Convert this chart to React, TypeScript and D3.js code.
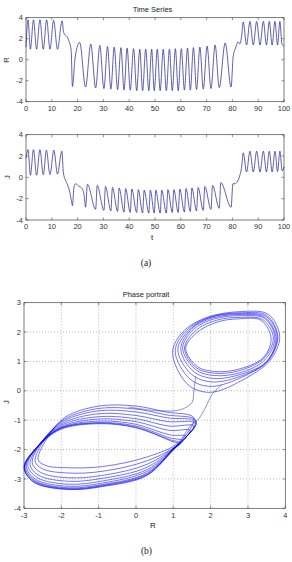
import React, { useEffect, useRef } from "react";
import * as d3 from "d3";

const W = 292;
const H = 562;

// R(t): turning points
const rTimes = [
  0, 0.8, 1.7, 2.9, 4.1, 5.4, 6.7, 8.0, 9.3, 10.7, 12.2, 14.0, 14.6, 16.3, 17.5,
  18.0, 19.0, 20.8, 23.1, 25.1, 27.0, 28.6, 30.2, 31.6, 32.9, 34.2, 35.5, 36.8,
  38.0, 39.2, 40.4, 41.7, 42.9, 44.1, 45.2, 46.4, 47.6, 48.7, 49.7, 50.9, 52.0,
  53.2, 54.4, 55.6, 56.7, 57.9, 59.0, 60.2, 61.4, 62.6, 63.7, 64.9, 66.1, 67.4,
  68.7, 70.2, 71.7, 73.3, 74.9, 77.2, 79.5, 80.3, 81.2, 82.3, 82.9, 83.6, 84.2,
  85.5, 86.8, 88.1, 89.4, 90.7, 92.0, 93.2, 94.3, 95.4, 96.5, 97.5, 98.4, 99.2, 100,
];
const rValues = [
  1.2, 3.8, 1.0, 3.8, 1.0, 3.8, 1.0, 3.8, 1.0, 3.75, 1.0, 3.7, 2.6, 2.0, 0.9,
  -2.55, 0.1, 1.65, -2.6, 1.5, -2.7, 1.35, -2.75, 1.25, -2.8, 1.2, -2.85, 1.15,
  -2.9, 1.1, -2.9, 1.05, -2.95, 1.0, -2.95, 1.0, -2.95, 1.0, -2.95, 1.0, -2.95,
  1.0, -2.95, 1.0, -2.95, 1.05, -2.95, 1.05, -2.9, 1.1, -2.9, 1.15, -2.85, 1.2,
  -2.8, 1.3, -2.75, 1.4, -2.65, 1.6, -2.6, 0.3, 1.1, 1.7, 1.5, 2.3, 3.6,
  1.4, 3.65, 1.4, 3.65, 1.4, 3.65, 1.4, 3.65, 1.4, 3.65, 1.4, 3.65, 1.5, 1.3,
];

// J(t): turning points
const jTimes = [
  0, 0.8, 1.7, 2.9, 4.1, 5.4, 6.7, 7.9, 9.3, 10.8, 12.2, 13.9, 14.5, 15.8, 16.8,
  17.6, 18.0, 18.6, 19.2, 20.3, 21.6, 22.6, 23.1, 23.8, 27.0, 27.6, 30.2, 30.8,
  32.9, 33.5, 35.5, 36.1, 38.0, 38.6, 40.4, 41.0, 42.9, 43.5, 45.2, 45.8, 47.6,
  48.2, 49.7, 50.3, 52.0, 52.6, 54.4, 55.0, 56.7, 57.3, 59.0, 59.6, 61.4, 62.0,
  63.7, 64.3, 66.1, 66.7, 68.7, 69.3, 71.7, 72.3, 74.9, 75.5, 79.5, 80.2, 81.0,
  81.8, 82.7, 83.6, 84.2, 85.5, 86.8, 88.1, 89.4, 90.7, 92.0, 93.2, 94.3, 95.4,
  96.5, 97.5, 98.4, 99.3, 100,
];
const jValues = [
  1.8, 2.6, 0.2, 2.6, 0.2, 2.6, 0.25, 2.55, 0.25, 2.55, 0.3, 2.45, 0.4, -0.55, -1.2,
  -2.2, -2.65, -0.9, -0.6, -0.8, -1.0, -1.8, -2.8, -0.65, -3.0, -0.75, -3.1, -0.85,
  -3.15, -0.95, -3.2, -1.0, -3.25, -1.05, -3.3, -1.1, -3.3, -1.15, -3.35, -1.2, -3.35,
  -1.2, -3.35, -1.2, -3.35, -1.2, -3.35, -1.15, -3.3, -1.15, -3.3, -1.1, -3.25, -1.05,
  -3.2, -1.0, -3.15, -0.95, -3.1, -0.85, -3.0, -0.75, -2.9, -0.5, -2.8, -0.6, -0.6,
  -0.45, 0.05, 1.0, 2.3, 0.5, 2.45, 0.5, 2.45, 0.5, 2.45, 0.5, 2.45, 0.5,
  2.45, 0.55, 2.45, 0.6, 1.0,
];

const timeTicks = [0, 10, 20, 30, 40, 50, 60, 70, 80, 90, 100];
const seriesTicks = [-4, -2, 0, 2, 4];
const phaseRTicks = [-3, -2, -1, 0, 1, 2, 3, 4];
const phaseJTicks = [-4, -3, -2, -1, 0, 1, 2, 3];

// phase portrait, upper attractor: loops of [R, J]
const upperLoops = [
  [[0.98, 1.3], [1.25, 2.0], [1.9, 2.5], [2.85, 2.7], [3.55, 2.6], [3.85, 1.85], [3.6, 1.05], [2.9, 0.4], [2.0, -0.05], [1.4, 0.2]],
  [[1.05, 1.35], [1.35, 2.05], [1.95, 2.5], [2.85, 2.66], [3.5, 2.57], [3.8, 1.85], [3.55, 1.05], [2.9, 0.5], [2.0, 0.15], [1.45, 0.4]],
  [[1.12, 1.4], [1.45, 2.1], [2.0, 2.5], [2.85, 2.63], [3.5, 2.52], [3.78, 1.85], [3.52, 1.0], [2.85, 0.52], [2.05, 0.3], [1.5, 0.55]],
  [[1.2, 1.42], [1.5, 2.12], [2.05, 2.48], [2.85, 2.6], [3.45, 2.5], [3.75, 1.82], [3.5, 1.0], [2.85, 0.58], [2.1, 0.42], [1.55, 0.65]],
  [[1.25, 1.45], [1.55, 2.1], [2.1, 2.45], [2.85, 2.56], [3.45, 2.46], [3.72, 1.8], [3.45, 1.05], [2.8, 0.62], [2.1, 0.52], [1.6, 0.72]],
  [[1.3, 1.45], [1.6, 2.05], [2.15, 2.4], [2.8, 2.5], [3.4, 2.42], [3.68, 1.8], [3.42, 1.1], [2.75, 0.68], [2.1, 0.6], [1.62, 0.78]],
  [[1.33, 1.45], [1.65, 2.0], [2.2, 2.35], [2.75, 2.45], [3.35, 2.4], [3.62, 1.78], [3.4, 1.12], [2.7, 0.72], [2.1, 0.66], [1.65, 0.82]],
];

// phase portrait, lower attractor
const lowerLoops = [
  [[-2.62, -2.35], [-2.35, -1.55], [-1.9, -0.9], [-1.0, -0.52], [0.0, -0.52], [0.8, -0.72], [1.55, -0.92], [1.15, -1.75], [0.3, -2.25], [-0.9, -2.58], [-1.8, -2.62], [-2.4, -2.55]],
  [[-2.7, -2.4], [-2.42, -1.6], [-1.92, -0.97], [-1.0, -0.6], [0.0, -0.62], [0.82, -0.82], [1.6, -1.0], [1.15, -1.8], [0.3, -2.38], [-0.9, -2.74], [-1.8, -2.8], [-2.5, -2.66]],
  [[-2.78, -2.45], [-2.48, -1.66], [-1.94, -1.03], [-1.0, -0.68], [0.0, -0.72], [0.84, -0.92], [1.62, -1.05], [1.13, -1.82], [0.3, -2.5], [-0.9, -2.88], [-1.8, -2.96], [-2.55, -2.78]],
  [[-2.84, -2.5], [-2.52, -1.72], [-1.96, -1.1], [-1.0, -0.78], [0.0, -0.84], [0.86, -1.05], [1.6, -1.1], [1.12, -1.84], [0.3, -2.6], [-0.9, -2.98], [-1.8, -3.08], [-2.6, -2.88]],
  [[-2.9, -2.52], [-2.56, -1.78], [-1.98, -1.16], [-1.0, -0.88], [0.0, -0.95], [0.88, -1.2], [1.55, -1.2], [1.1, -1.86], [0.3, -2.68], [-0.9, -3.07], [-1.8, -3.18], [-2.64, -2.96]],
  [[-2.94, -2.55], [-2.6, -1.84], [-2.0, -1.22], [-1.0, -0.96], [0.0, -1.05], [0.9, -1.35], [1.45, -1.35], [1.1, -1.88], [0.3, -2.74], [-0.9, -3.14], [-1.8, -3.25], [-2.68, -3.02]],
  [[-2.97, -2.57], [-2.62, -1.88], [-2.02, -1.26], [-1.0, -1.03], [0.0, -1.14], [0.9, -1.5], [1.35, -1.55], [1.08, -1.9], [0.3, -2.8], [-0.9, -3.19], [-1.8, -3.3], [-2.7, -3.06]],
  [[-2.99, -2.58], [-2.64, -1.9], [-2.03, -1.28], [-1.0, -1.08], [0.0, -1.2], [0.9, -1.6], [1.25, -1.7], [1.05, -1.92], [0.3, -2.83], [-0.9, -3.22], [-1.8, -3.33], [-2.72, -3.08]],
  [[-3.0, -2.6], [-2.65, -1.92], [-2.04, -1.3], [-1.0, -1.1], [0.0, -1.24], [0.9, -1.66], [1.2, -1.78], [1.05, -1.95], [0.3, -2.86], [-0.9, -3.24], [-1.8, -3.35], [-2.74, -3.1]],
  [[-2.99, -2.62], [-2.64, -1.94], [-2.03, -1.32], [-1.0, -1.12], [0.0, -1.26], [0.92, -1.7], [1.15, -1.82], [1.0, -1.97], [0.3, -2.88], [-0.9, -3.26], [-1.8, -3.36], [-2.73, -3.12]],
];

// transit curves between the two attractors
const bridges = [
  [[-0.2, -0.55], [0.6, -0.68], [1.2, -0.64], [1.5, -0.4], [1.55, 0.0], [1.6, 0.5]],
  [[2.3, 0.2], [2.05, -0.1], [1.85, -0.6], [1.65, -1.0], [1.45, -1.2], [1.2, -1.7]],
];

const FONT = "'Liberation Sans', Arial, sans-serif";
const SERIF = "'Liberation Serif', 'Times New Roman', serif";

function drawFrame(g, x, y, xTicks, yTicks, grid) {
  const [x0, x1] = x.range();
  const [y0, y1] = y.range();
  const tk = 2.5;

  if (grid) {
    xTicks.slice(1, -1).forEach((v) => {
      g.append("line").attr("x1", x(v)).attr("x2", x(v)).attr("y1", y0).attr("y2", y1)
        .attr("stroke", "#8a8a8a").attr("stroke-width", 0.6).attr("stroke-dasharray", "1,2");
    });
    yTicks.slice(1, -1).forEach((v) => {
      g.append("line").attr("x1", x0).attr("x2", x1).attr("y1", y(v)).attr("y2", y(v))
        .attr("stroke", "#8a8a8a").attr("stroke-width", 0.6).attr("stroke-dasharray", "1,2");
    });
  }

  g.append("rect").attr("x", x0).attr("y", y1).attr("width", x1 - x0).attr("height", y0 - y1)
    .attr("fill", "none").attr("stroke", "#444").attr("stroke-width", 0.7);

  xTicks.forEach((v) => {
    g.append("line").attr("x1", x(v)).attr("x2", x(v)).attr("y1", y0).attr("y2", y0 - tk).attr("stroke", "#444").attr("stroke-width", 0.6);
    g.append("line").attr("x1", x(v)).attr("x2", x(v)).attr("y1", y1).attr("y2", y1 + tk).attr("stroke", "#444").attr("stroke-width", 0.6);
    g.append("text").attr("x", x(v)).attr("y", y0 + 9.3).attr("text-anchor", "middle")
      .attr("font-family", FONT).attr("font-size", 7.5).attr("fill", "#333").text(v);
  });
  yTicks.forEach((v) => {
    g.append("line").attr("x1", x0).attr("x2", x0 + tk).attr("y1", y(v)).attr("y2", y(v)).attr("stroke", "#444").attr("stroke-width", 0.6);
    g.append("line").attr("x1", x1).attr("x2", x1 - tk).attr("y1", y(v)).attr("y2", y(v)).attr("stroke", "#444").attr("stroke-width", 0.6);
    g.append("text").attr("x", x0 - 3).attr("y", y(v)).attr("dy", "0.35em").attr("text-anchor", "end")
      .attr("font-family", FONT).attr("font-size", 7.5).attr("fill", "#333").text(v);
  });
}

function addText(svg, x, y, s, opts = {}) {
  const t = svg.append("text").attr("x", x).attr("y", y)
    .attr("font-family", opts.family || FONT).attr("font-size", opts.size || 7.5)
    .attr("fill", "#222").attr("text-anchor", "middle").text(s);
  if (opts.rotate) {
    t.attr("x", 0).attr("y", 0).attr("dy", "0.35em").attr("transform", `translate(${x},${y}) rotate(-90)`);
  }
  return t;
}

export default function App() {
  const ref = useRef(null);

  useEffect(() => {
    const svg = d3.select(ref.current);
    svg.selectAll("*").remove();

    const xT = d3.scaleLinear().domain([0, 100]).range([26, 284]);
    const yR = d3.scaleLinear().domain([-4, 4]).range([101.7, 17.7]);
    const yJ = d3.scaleLinear().domain([-4, 4]).range([220, 134.7]);
    const xP = d3.scaleLinear().domain([-3, 4]).range([24, 285.3]);
    const yP = d3.scaleLinear().domain([-4, 3]).range([508.3, 302.7]);

    // time series panels
    const top = svg.append("g");
    drawFrame(top, xT, yR, timeTicks, seriesTicks, false);
    const rLine = d3.line().x((d) => xT(d[0])).y((d) => yR(d[1])).curve(d3.curveMonotoneX);
    top.append("path").datum(d3.zip(rTimes, rValues)).attr("d", rLine)
      .attr("fill", "none").attr("stroke", "#2b2b95").attr("stroke-width", 0.75);

    const bottom = svg.append("g");
    drawFrame(bottom, xT, yJ, timeTicks, seriesTicks, false);
    const jLine = d3.line().x((d) => xT(d[0])).y((d) => yJ(d[1])).curve(d3.curveMonotoneX);
    bottom.append("path").datum(d3.zip(jTimes, jValues)).attr("d", jLine)
      .attr("fill", "none").attr("stroke", "#2b2b95").attr("stroke-width", 0.75);

    addText(svg, 152.5, 12, "Time Series");
    addText(svg, 6.5, 60, "R", { rotate: true });
    addText(svg, 7, 177, "J", { rotate: true });
    addText(svg, 152, 240, "t", { size: 8 });
    addText(svg, 146, 266, "(a)", { family: SERIF, size: 9.5 });

    // phase portrait
    const phase = svg.append("g");
    drawFrame(phase, xP, yP, phaseRTicks, phaseJTicks, true);
    const loop = d3.line().x((d) => xP(d[0])).y((d) => yP(d[1])).curve(d3.curveCatmullRomClosed.alpha(0.5));
    const open = d3.line().x((d) => xP(d[0])).y((d) => yP(d[1])).curve(d3.curveCatmullRom.alpha(0.5));
    const trj = phase.append("g").attr("fill", "none").attr("stroke", "#0000ee").attr("stroke-width", 0.55);
    upperLoops.concat(lowerLoops).forEach((pts) => {
      trj.append("path").attr("d", loop(pts));
    });
    bridges.forEach((pts) => {
      trj.append("path").attr("d", open(pts)).attr("stroke", "#3030c0");
    });

    addText(svg, 146, 297, "Phase portrait");
    addText(svg, 6.5, 402, "J", { rotate: true });
    addText(svg, 153, 528, "R", { size: 8 });
    addText(svg, 146.5, 553.5, "(b)", { family: SERIF, size: 9.5 });
  }, []);

  return (
    <svg ref={ref} width={W} height={H}
      style={{ position: "absolute", left: 0, top: 0, background: "#fff" }} />
  );
}
